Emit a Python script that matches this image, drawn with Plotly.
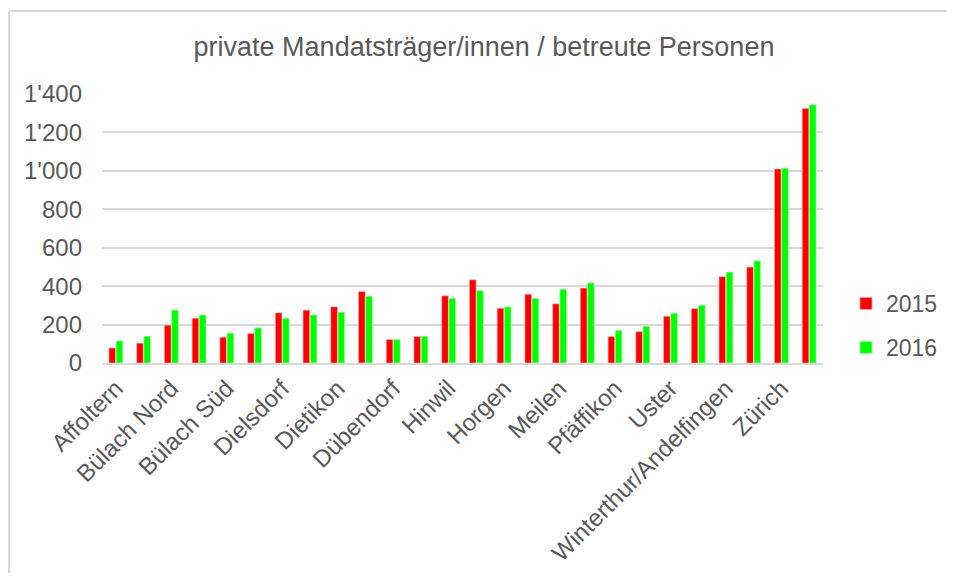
import plotly.graph_objects as go

# 26 categories; only every other one carries a visible label (as in the source chart)
positions = list(range(26))
label_positions = [0, 2, 4, 6, 8, 10, 12, 14, 16, 18, 20, 22, 24]
labels = ["Affoltern", "Bülach Nord", "Bülach Süd", "Dielsdorf", "Dietikon",
          "Dübendorf", "Hinwil", "Horgen", "Meilen", "Pfäffikon", "Uster",
          "Winterthur/Andelfingen", "Zürich"]

values_2015 = [78, 103, 197, 233, 134, 153, 261, 275, 292, 372, 122, 137, 350,
               433, 285, 358, 308, 390, 137, 163, 243, 283, 449, 499, 1010, 1325]
values_2016 = [115, 139, 275, 250, 155, 183, 233, 250, 264, 348, 122, 139, 337,
               377, 292, 336, 384, 417, 170, 191, 259, 301, 473, 532, 1014, 1344]

y_ticks = [0, 200, 400, 600, 800, 1000, 1200, 1400]

FONT = "Liberation Sans, Arial, sans-serif"
TXT = "#595959"

fig = go.Figure()
fig.add_trace(go.Bar(x=positions, y=values_2015, name="2015", legendgroup="y2015",
                     marker=dict(color="#ff0000", line=dict(color="#ffb3b3", width=0.6))))
fig.add_trace(go.Bar(x=positions, y=values_2016, name="2016", legendgroup="y2016",
                     marker=dict(color="#00ff00", line=dict(color="#b3ffb3", width=0.6))))

# page has an 8px body margin; figure coords = page coords - 8
FW, FH = 939, 565
L, T = 94, 86
W, H = 721, 269
R, B = FW - L - W, FH - T - H

def px(x):
    return (x - 8 - L) / W

def py(y):
    return (FH - B - (y - 8)) / H

# outer chart border (top and left visible)
fig.add_shape(type="line", xref="paper", yref="paper",
              x0=px(9), x1=px(960), y0=py(11), y1=py(11),
              line=dict(color="#d9d9d9", width=2))
fig.add_shape(type="line", xref="paper", yref="paper",
              x0=px(9), x1=px(9), y0=py(11), y1=py(600),
              line=dict(color="#d9d9d9", width=2))

fig.update_layout(
    width=FW, height=FH,
    margin=dict(l=L, r=R, t=T, b=B, autoexpand=False),
    paper_bgcolor="white", plot_bgcolor="white",
    separators=".'",
    title=dict(text="private Mandatsträger/innen / betreute Personen",
               x=(484 - 8) / FW, xanchor="center", y=1 - (47 - 8) / FH, yanchor="middle",
               font=dict(family=FONT, size=27, color=TXT)),
    barmode="group", bargap=0.48, bargroupgap=0.08,
    showlegend=True,
    legend=dict(x=px(846), y=py(282), xanchor="left", yanchor="top",
                font=dict(family=FONT, size=23, color=TXT),
                tracegroupgap=11, itemwidth=30, bgcolor="rgba(0,0,0,0)"),
)

fig.update_xaxes(range=[-0.5, 25.5], tickmode="array", tickvals=label_positions,
                 ticktext=labels, tickangle=-45, showgrid=False, automargin=False,
                 showline=True, linecolor="#d9d9d9", linewidth=1.5,
                 ticks="", tickfont=dict(family=FONT, size=24, color=TXT))
fig.update_yaxes(range=[0, 1400], tickmode="array", tickvals=y_ticks, automargin=False,
                 tickformat=",d", showgrid=True, gridcolor="#d9d9d9", gridwidth=1.5,
                 zeroline=False, showline=False, ticks="", ticklen=0,
                 ticklabelstandoff=19,
                 tickfont=dict(family=FONT, size=24, color=TXT))

fig.write_html("out.html")
